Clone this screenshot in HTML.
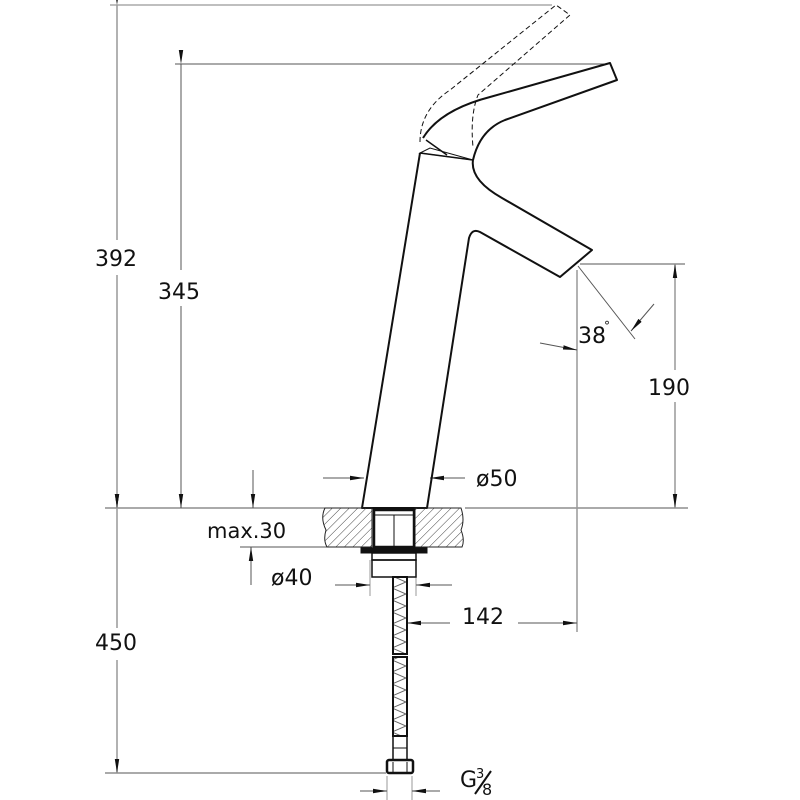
<!DOCTYPE html>
<html><head><meta charset="utf-8"><style>
html,body{margin:0;padding:0;background:#fff}
svg{display:block}
text{font-family:"DejaVu Sans","Liberation Sans",sans-serif;fill:#111}
</style></head><body>
<svg width="800" height="800" viewBox="0 0 800 800" xmlns="http://www.w3.org/2000/svg">
<defs>
<marker id="a" markerWidth="14" markerHeight="6" refX="14" refY="3" orient="auto" markerUnits="userSpaceOnUse"><path d="M0,0.8 L14,3 L0,5.2Z" fill="#111"/></marker>
<pattern id="h" width="6" height="6" patternUnits="userSpaceOnUse" patternTransform="rotate(45)"><line x1="0" y1="0" x2="0" y2="6" stroke="#444" stroke-width="1"/></pattern>
<pattern id="hz" width="14" height="12" patternUnits="userSpaceOnUse"><path d="M0,0 L14,6 L0,12" stroke="#666" stroke-width="1" fill="none"/></pattern>
</defs>
<g stroke="#555" stroke-width="1" fill="none">
<line x1="110" y1="5" x2="552" y2="5" stroke="#aaa" stroke-width="1.5"/>
<line x1="175" y1="64" x2="608" y2="64"/>
<line x1="105" y1="508" x2="330" y2="508"/>
<line x1="465" y1="508" x2="688" y2="508"/>
<line x1="240" y1="547" x2="330" y2="547"/>
<line x1="105" y1="773" x2="386" y2="773"/>
<line x1="580" y1="264" x2="685" y2="264"/>
<line x1="577" y1="270" x2="577" y2="632" stroke="#999" stroke-width="1.5"/>
<line x1="370" y1="560" x2="370" y2="596" stroke="#999"/>
<line x1="416" y1="560" x2="416" y2="596" stroke="#999"/>
<line x1="387" y1="776" x2="387" y2="800" stroke="#999"/>
<line x1="412" y1="776" x2="412" y2="800" stroke="#999"/>
<line x1="117" y1="5" x2="117" y2="240" marker-start="url(#a)" stroke="#999" stroke-width="1.5"/>
<line x1="117" y1="275" x2="117" y2="508" marker-end="url(#a)" stroke="#999" stroke-width="1.5"/>
<line x1="181" y1="64" x2="181" y2="270" marker-start="url(#a)"/>
<line x1="181" y1="306" x2="181" y2="508" marker-end="url(#a)"/>
<line x1="117" y1="508" x2="117" y2="628" marker-start="url(#a)" stroke="#999" stroke-width="1.5"/>
<line x1="117" y1="660" x2="117" y2="773" marker-end="url(#a)" stroke="#999" stroke-width="1.5"/>
<line x1="253" y1="470" x2="253" y2="508" marker-end="url(#a)"/>
<line x1="251" y1="585" x2="251" y2="547" marker-end="url(#a)"/>
<line x1="323" y1="478" x2="364" y2="478" marker-end="url(#a)"/>
<line x1="465" y1="478" x2="430" y2="478" marker-end="url(#a)"/>
<line x1="335" y1="585" x2="370" y2="585" marker-end="url(#a)"/>
<line x1="452" y1="585" x2="416" y2="585" marker-end="url(#a)"/>
<line x1="450" y1="623" x2="407" y2="623" marker-end="url(#a)"/>
<line x1="518" y1="623" x2="577" y2="623" marker-end="url(#a)"/>
<line x1="675" y1="370" x2="675" y2="264" marker-end="url(#a)" stroke="#999" stroke-width="1.5"/>
<line x1="675" y1="402" x2="675" y2="508" marker-end="url(#a)" stroke="#999" stroke-width="1.5"/>
<line x1="578" y1="266" x2="635" y2="339"/>
<line x1="540" y1="343" x2="577" y2="350" marker-end="url(#a)"/>
<line x1="654" y1="304" x2="631" y2="331" marker-end="url(#a)"/>
<line x1="360" y1="791" x2="387" y2="791" marker-end="url(#a)"/>
<line x1="440" y1="791" x2="412" y2="791" marker-end="url(#a)"/>
</g>
<g stroke="#111" stroke-width="2" fill="none" stroke-linejoin="round">
<path d="M420,153 L362,508 L427,508 L469,238 Q472,228 480,232 L560,277 L592,250 L502,198 Q470,180 473,160"/>
<path d="M423,138 Q440,110 490,97 L610,63 L617,80 L505,120 Q480,130 473,160"/>
<path d="M420,153 L473,160 M426,140 L447,155" stroke-width="1.5"/>
</g>
<g stroke="#111" stroke-width="1" fill="none" stroke-dasharray="5,3">
<path d="M420,142 Q420,110 450,90 L556,5 L570,15 L478,95 Q470,115 473,147"/>
</g>
<path d="M420,153 L473,160 L430,148Z" fill="none" stroke="#111" stroke-width="1"/>
<path d="M325,508 L372,508 L372,547 L327,547 Q323,540 326,530 Q320,518 325,508Z" fill="url(#h)" stroke="#222" stroke-width="1"/>
<path d="M415,508 L461,508 Q465,520 461,530 Q465,540 462,547 L415,547Z" fill="url(#h)" stroke="#222" stroke-width="1"/>
<g stroke="#111" fill="none">
<rect x="374" y="510" width="40" height="37" stroke-width="2.5"/>
<line x1="374" y1="515" x2="414" y2="515" stroke-width="1"/>
<line x1="394" y1="515" x2="394" y2="547" stroke-width="1"/>
<rect x="361" y="548" width="66" height="5" fill="#111"/>
<rect x="372" y="553" width="44" height="7" stroke-width="1.5"/>
<rect x="372" y="560" width="44" height="17" stroke-width="1.5"/>
<rect x="393" y="577" width="14" height="77" fill="url(#hz)" stroke-width="2"/>
<rect x="393" y="657" width="14" height="79" fill="url(#hz)" stroke-width="2"/>
<rect x="393" y="736" width="14" height="24" stroke-width="1.5"/>
<line x1="393" y1="748" x2="407" y2="748" stroke-width="1"/>
<rect x="387" y="760" width="26" height="13" rx="2" stroke-width="2.5"/>
<line x1="393" y1="762" x2="393" y2="772" stroke-width="1"/>
<line x1="407" y1="762" x2="407" y2="772" stroke-width="1"/>
</g>
<g font-size="22">
<text x="95" y="266">392</text>
<text x="158" y="299">345</text>
<text x="95" y="650">450</text>
<text x="648" y="395">190</text>
<text x="462" y="624">142</text>
<text x="476" y="486">ø50</text>
<text x="271" y="585">ø40</text>
<text x="207" y="538" font-size="21">max.30</text>
<text x="578" y="343">38</text>
<text x="604" y="330" font-size="12">°</text>
<text x="460" y="787">G</text>
<text x="476" y="778" font-size="13">3</text>
<line x1="475" y1="794" x2="491" y2="771" stroke="#111" stroke-width="2"/>
<text x="482" y="795" font-size="16">8</text>
</g>
</svg>
</body></html>
